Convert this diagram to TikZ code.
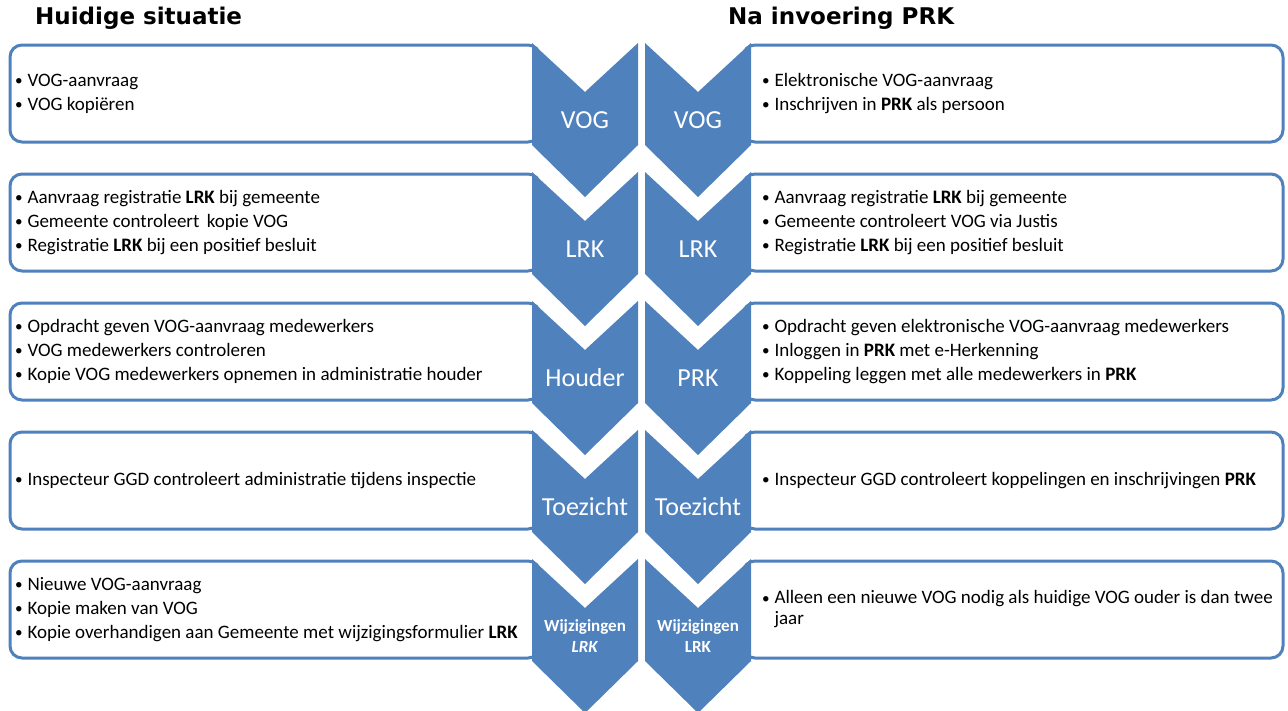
\documentclass[tikz,border=0pt]{standalone}
\usepackage{fontspec}
\setmainfont{Carlito}
\newfontfamily\headfont{DejaVu Sans}
\usetikzlibrary{positioning}
\definecolor{chevblue}{HTML}{4F81BD}
\definecolor{boxblue}{HTML}{4F81BD}
\tikzset{
  box/.style={draw=boxblue, line width=3pt, rounded corners=12pt, fill=white},
  chevron/.style={fill=chevblue},
  items/.style={anchor=west, align=left, inner sep=0pt, font=\fontsize{19}{24}\selectfont},
  chevlabel/.style={text=white, align=center, inner sep=0pt, font=\fontsize{26}{28}\selectfont},
  smalllabel/.style={chevlabel, font=\fontsize{17}{21}\selectfont\bfseries},
  heading/.style={anchor=west, inner sep=0pt, font=\headfont\fontsize{23}{26}\selectfont\bfseries},
}
\newcommand{\itm}{\raisebox{0.1ex}{\scalebox{0.8}{\textbullet}}\hspace{0.25em}}
\newcommand{\noitm}{\phantom{\scalebox{0.8}{\textbullet}}\hspace{0.25em}}

\begin{document}
\begin{tikzpicture}[x=1pt,y=-1pt]
  \clip (0,0) rectangle (1288,710);
  \fill [white] (0,0) rectangle (1288,710);
  \node [heading] (hleft) at (35,18) {Huidige situatie};
  \node [heading] (hright) at (728,18) {Na invoering PRK};
  % boxes
  \foreach \i in {0,...,4} {
    \draw [box] (10,45+129*\i) rectangle (540,142+129*\i);
    \draw [box] (743,45+129*\i) rectangle (1283,142+129*\i);
  }
  % chevrons
  \foreach \i in {0,...,4} {
    \begin{scope}[shift={(0,129*\i)}]
      \fill [chevron] (532,43) -- (585,92) -- (638,43) -- (638,145) -- (585,197) -- (532,145) -- cycle;
      \fill [chevron] (645,43) -- (698,92) -- (751,43) -- (751,145) -- (698,197) -- (645,145) -- cycle;
    \end{scope}
  }
  % labels in the chevrons
  \node [chevlabel] (vogl) at (585,120) {VOG};
  \node [chevlabel] (vogr) at (698,120) {VOG};
  \node [chevlabel] (lrkl) at (585,249) {LRK};
  \node [chevlabel] (lrkr) at (698,249) {LRK};
  \node [chevlabel] (houder) at (585,378) {Houder};
  \node [chevlabel] (prk) at (698,378) {PRK};
  \node [chevlabel] (toezl) at (585,507) {Toezicht};
  \node [chevlabel] (toezr) at (698,507) {Toezicht};
  \node [smalllabel] (wijzl) at (585,636) {Wijzigingen\\\textit{LRK}};
  \node [smalllabel] (wijzr) at (698,636) {Wijzigingen\\LRK};
  % current situation
  \node [items] (now1) at (15,93.5) {\itm VOG-aanvraag\\\itm VOG kopiëren};
  \node [items] (now2) at (15,222.5) {\itm Aanvraag registratie \textbf{LRK} bij gemeente\\\itm Gemeente controleert\, kopie VOG\\\itm Registratie \textbf{LRK} bij een positief besluit};
  \node [items] (now3) at (15,351.5) {\itm Opdracht geven VOG-aanvraag medewerkers\\\itm VOG medewerkers controleren\\\itm Kopie VOG medewerkers opnemen in administratie houder};
  \node [items] (now4) at (15,480.5) {\itm Inspecteur GGD controleert administratie tijdens inspectie};
  \node [items] (now5) at (15,609.5) {\itm Nieuwe VOG-aanvraag\\\itm Kopie maken van VOG\\\itm Kopie overhandigen aan Gemeente met wijzigingsformulier \textbf{LRK}};
  % after PRK
  \node [items] (new1) at (762,93.5) {\itm Elektronische VOG-aanvraag\\\itm Inschrijven in \textbf{PRK} als persoon};
  \node [items] (new2) at (762,222.5) {\itm Aanvraag registratie \textbf{LRK} bij gemeente\\\itm Gemeente controleert VOG via Justis\\\itm Registratie \textbf{LRK} bij een positief besluit};
  \node [items] (new3) at (762,351.5) {\itm Opdracht geven elektronische VOG-aanvraag medewerkers\\\itm Inloggen in \textbf{PRK} met e-Herkenning\\\itm Koppeling leggen met alle medewerkers in \textbf{PRK}};
  \node [items] (new4) at (762,480.5) {\itm Inspecteur GGD controleert koppelingen en inschrijvingen \textbf{PRK}};
  \node [items, font=\fontsize{19}{21}\selectfont] (new5) at (762,609.5) {\itm Alleen een nieuwe VOG nodig als huidige VOG ouder is dan twee\\\noitm jaar};
\end{tikzpicture}
\end{document}
